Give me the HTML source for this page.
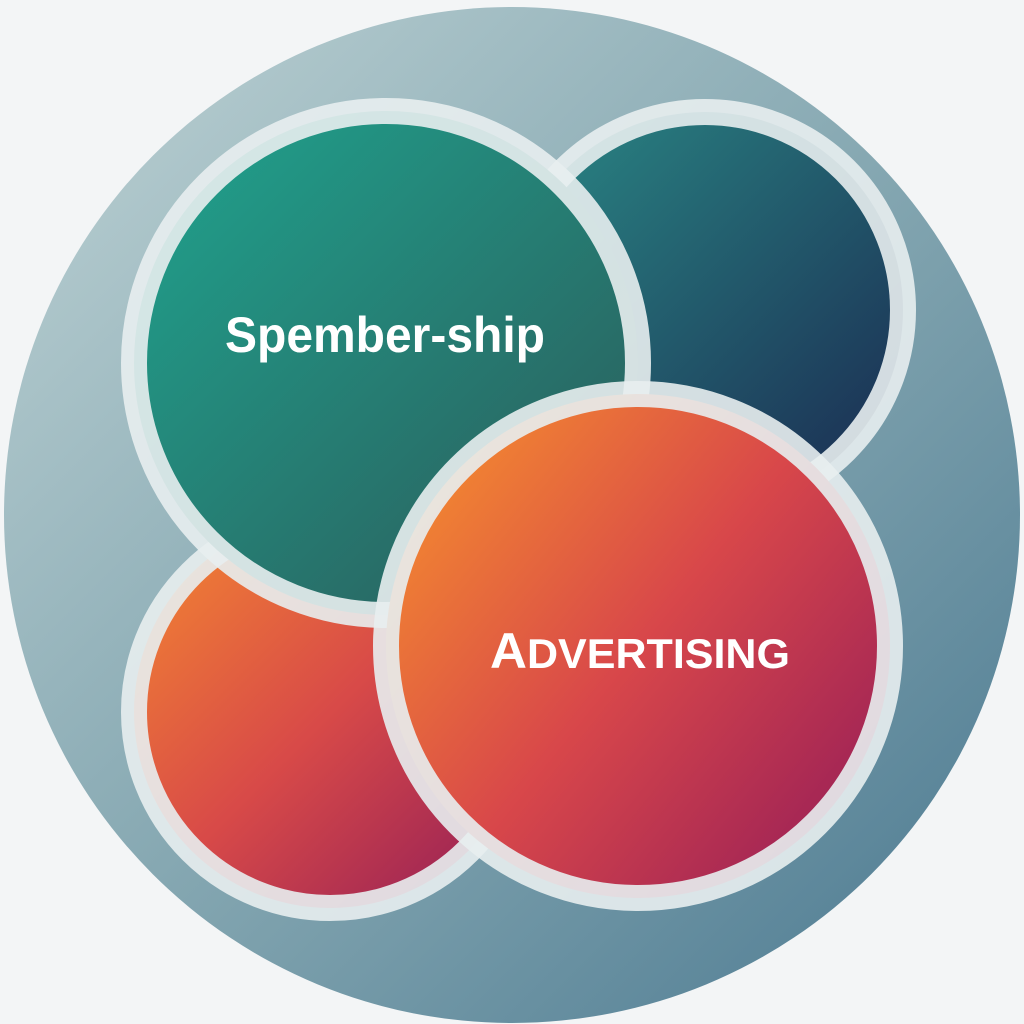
<!DOCTYPE html>
<html><head><meta charset="utf-8"><style>
html,body{margin:0;padding:0;background:#f3f5f6;}
svg{display:block}
</style></head><body>
<svg width="1024" height="1024" viewBox="0 0 1024 1024" xmlns="http://www.w3.org/2000/svg">
<defs>
<linearGradient id="bg" x1="0" y1="0" x2="1" y2="1">
<stop offset="0" stop-color="#bfd3d5"/><stop offset="0.5" stop-color="#86a8b2"/><stop offset="1" stop-color="#4a7890"/>
</linearGradient>
<linearGradient id="tl" x1="0" y1="0" x2="1" y2="1">
<stop offset="0" stop-color="#1fa58f"/><stop offset="1" stop-color="#2c5758"/>
</linearGradient>
<linearGradient id="tr" x1="0" y1="0" x2="1" y2="1">
<stop offset="0" stop-color="#2a8a86"/><stop offset="1" stop-color="#1a2850"/>
</linearGradient>
<linearGradient id="bl" x1="0" y1="0" x2="1" y2="1">
<stop offset="0" stop-color="#f58a30"/><stop offset="0.5" stop-color="#d84a48"/><stop offset="1" stop-color="#8e1a58"/>
</linearGradient>
<linearGradient id="br" x1="0" y1="0.1" x2="1" y2="0.9">
<stop offset="0" stop-color="#f7922c"/><stop offset="0.5" stop-color="#d8474a"/><stop offset="1" stop-color="#951c58"/>
</linearGradient>
</defs>
<rect width="1024" height="1024" fill="#f3f5f6"/>
<circle cx="512" cy="515" r="508" fill="url(#bg)"/>
<g stroke="#e8eef0" stroke-width="26" stroke-opacity="0.9">
<circle cx="705" cy="310" r="198" fill="url(#tr)"/>
<circle cx="330" cy="712" r="196" fill="url(#bl)"/>
<circle cx="386" cy="363" r="252" fill="url(#tl)"/>
<circle cx="638" cy="646" r="252" fill="url(#br)"/>
</g>
<text x="385" y="352" text-anchor="middle" font-family="Liberation Sans, sans-serif" font-weight="bold" font-size="50" fill="#fff" textLength="320" lengthAdjust="spacingAndGlyphs">Spember-ship</text>
<text x="640" y="668" text-anchor="middle" font-family="Liberation Sans, sans-serif" font-weight="bold" font-size="50" fill="#fff" textLength="300" lengthAdjust="spacingAndGlyphs">A<tspan font-size="42">DVERTISING</tspan></text>
</svg>
</body></html>
